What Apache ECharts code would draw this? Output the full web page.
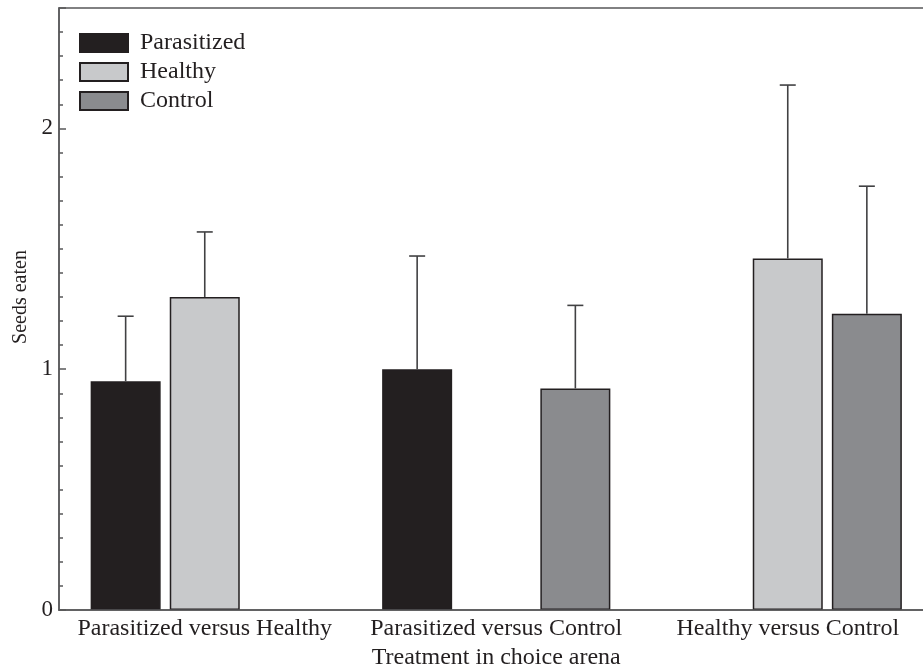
<!DOCTYPE html>
<html>
<head>
<meta charset="utf-8">
<script src="https://cdn.jsdelivr.net/npm/echarts@6/dist/echarts.min.js"></script>
<style>html,body{margin:0;padding:0;background:#fff;}#chart{width:923px;height:672px;}</style>
</head>
<body>
<div id="chart"></div>
<script>
var categories = ['Parasitized versus Healthy', 'Parasitized versus Control', 'Healthy versus Control'];
var seriesNames = ['Parasitized', 'Healthy', 'Control'];
var parasitized = [0.95, 1.00, null];
var healthy = [1.30, null, 1.46];
var control = [null, 0.92, 1.23];
var parasitizedUpper = [1.22, 1.47, null];
var healthyUpper = [1.57, null, 2.18];
var controlUpper = [null, 1.265, 1.76];
var yTicks = [0, 1, 2];

var colors = ['#231f20', '#c8c9cb', '#8a8b8e'];
var FONT = 'Liberation Serif';
var BAR_W = 70, GAP_PCT = 0.13;
var TEXT = '#231f20';
var AXIS = '#58585a';

var means = [parasitized, healthy, control];
var uppers = [parasitizedUpper, healthyUpper, controlUpper];

var series = [];
seriesNames.forEach(function (name, i) {
  series.push({
    name: name,
    type: 'bar',
    data: means[i],
    barWidth: BAR_W,
    barGap: (GAP_PCT * 100) + '%',
    itemStyle: { color: colors[i], borderColor: '#231f20', borderWidth: 1.5 },
    z: 2
  });
});
seriesNames.forEach(function (name, i) {
  var data = [];
  for (var k = 0; k < categories.length; k++) {
    if (means[i][k] != null) data.push([k, means[i][k], uppers[i][k]]);
  }
  var offset = (i - 1) * BAR_W * (1 + GAP_PCT);
  series.push({
    type: 'custom',
    name: name + ' error',
    data: data,
    z: 3,
    silent: true,
    legendHoverLink: false,
    renderItem: function (params, api) {
      var base = api.coord([api.value(0), api.value(1)]);
      var top = api.coord([api.value(0), api.value(2)]);
      var x = base[0] + offset;
      var style = { stroke: '#414143', lineWidth: 1.6 };
      return {
        type: 'group',
        children: [
          { type: 'line', shape: { x1: x, y1: base[1], x2: x, y2: top[1] }, style: style },
          { type: 'line', shape: { x1: x - 8, y1: top[1], x2: x + 8, y2: top[1] }, style: style }
        ]
      };
    }
  });
});

var chart = echarts.init(document.getElementById('chart'), null, { renderer: 'canvas' });
chart.setOption({
  backgroundColor: '#fff',
  animation: false,
  textStyle: { fontFamily: FONT },
  grid: {
    left: 59, right: -10.5, top: 8, bottom: 62,
    containLabel: false, outerBoundsMode: 'none',
    show: true, borderColor: AXIS, borderWidth: 1.5, backgroundColor: 'transparent'
  },
  legend: {
    data: seriesNames,
    orient: 'vertical',
    left: 79,
    top: 31,
    padding: 0,
    itemWidth: 48,
    itemHeight: 18,
    itemGap: 5,
    icon: 'rect',
    textStyle: { fontFamily: FONT, fontSize: 24, color: TEXT, padding: [0, 0, 0, 7] },
    selectedMode: false
  },
  xAxis: {
    type: 'category',
    data: categories,
    z: 10,
    name: 'Treatment in choice arena',
    nameLocation: 'middle',
    nameGap: 31,
    nameTextStyle: { fontFamily: FONT, fontSize: 24, color: TEXT },
    axisLine: { lineStyle: { color: AXIS, width: 1.5 } },
    axisTick: { inside: true, alignWithLabel: true, length: 7, lineStyle: { color: AXIS, width: 1.5 } },
    axisLabel: { interval: 0, fontFamily: FONT, fontSize: 24, color: TEXT, margin: 7 },
    splitLine: { show: false }
  },
  yAxis: {
    type: 'value',
    min: 0,
    max: 2.5,
    interval: 1,
    z: 10,
    name: 'Seeds eaten',
    nameLocation: 'middle',
    nameGap: 26,
    nameTextStyle: { fontFamily: FONT, fontSize: 20, color: TEXT, padding: [0, 0, 0, 24] },
    axisLine: { show: true, lineStyle: { color: AXIS, width: 1.5 } },
    axisTick: { show: true, inside: true, length: 7, lineStyle: { color: AXIS, width: 1.5 } },
    minorTick: { show: true, splitNumber: 10, length: 4, lineStyle: { color: AXIS, width: 1.5 } },
    axisLabel: {
      fontFamily: FONT, fontSize: 23, color: TEXT, margin: 6,
      formatter: function (v) { return yTicks.indexOf(v) >= 0 ? String(v) : ''; }
    },
    splitLine: { show: false }
  },
  series: series
});
</script>
</body>
</html>
